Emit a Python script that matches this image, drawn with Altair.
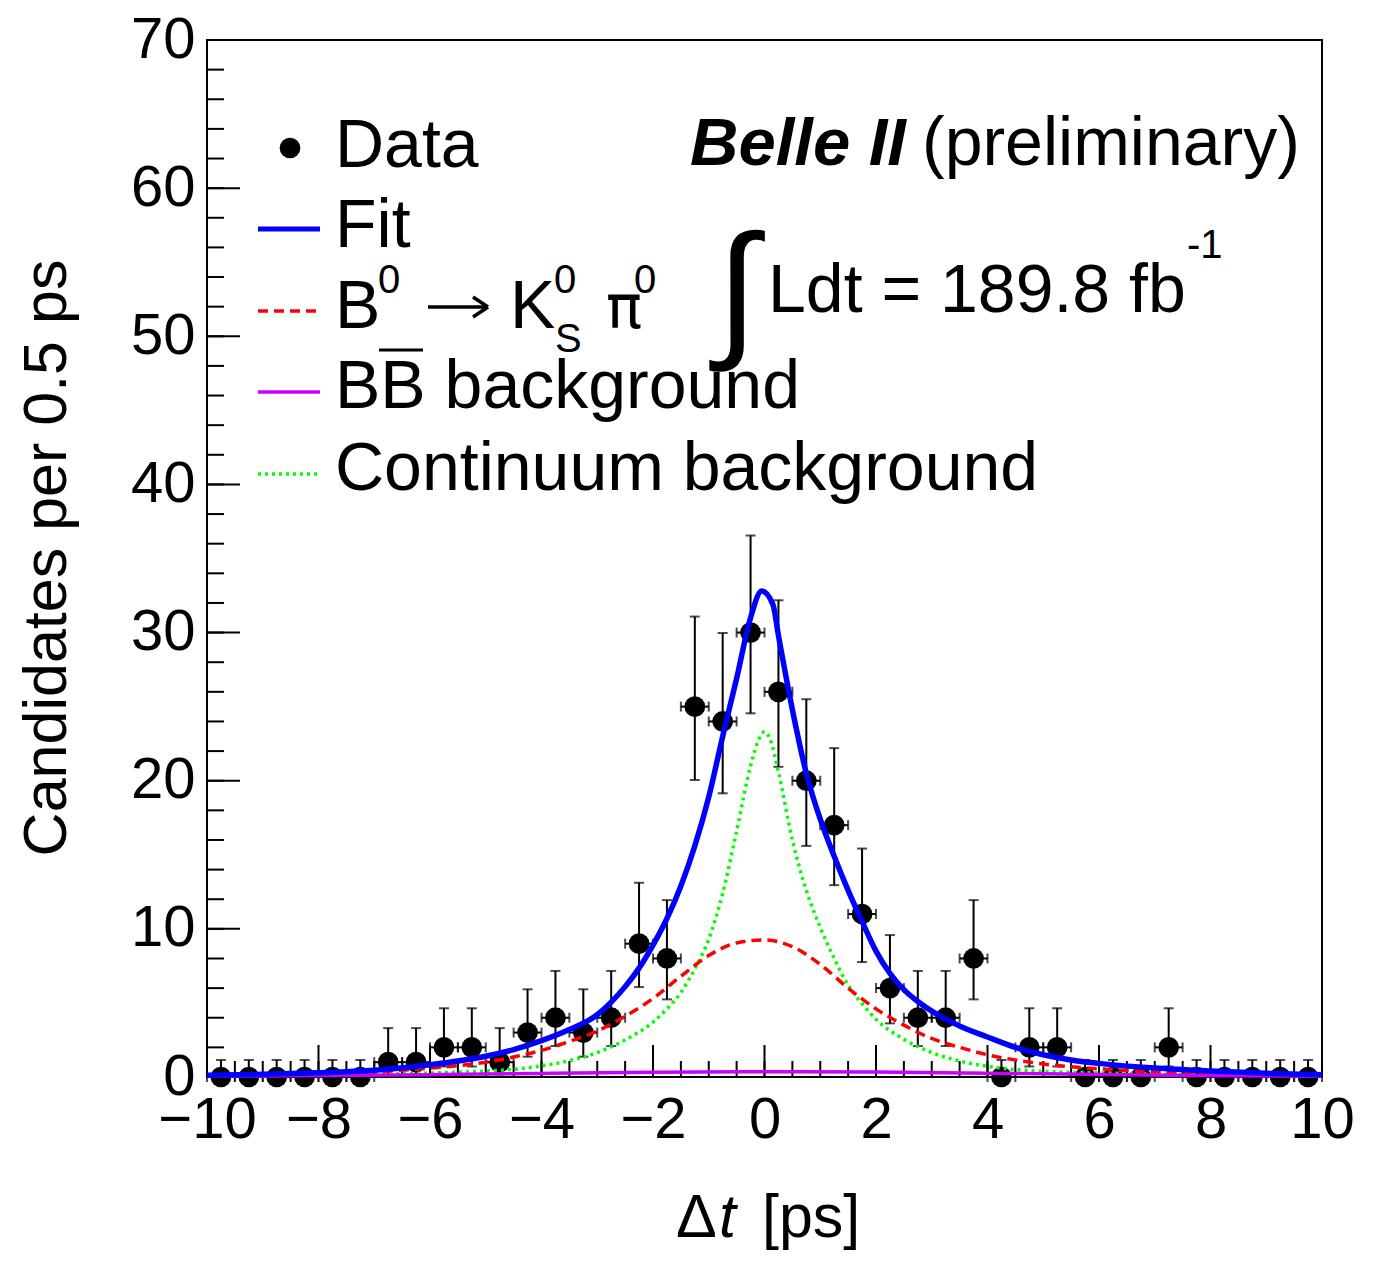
import altair as alt
import pandas as pd

# ---------------- data ----------------
bin_centers = [-9.75, -9.25, -8.75, -8.25, -7.75, -7.25, -6.75, -6.25, -5.75, -5.25,
               -4.75, -4.25, -3.75, -3.25, -2.75, -2.25, -1.75, -1.25, -0.75, -0.25,
               0.25, 0.75, 1.25, 1.75, 2.25, 2.75, 3.25, 3.75, 4.25, 4.75,
               5.25, 5.75, 6.25, 6.75, 7.25, 7.75, 8.25, 8.75, 9.25, 9.75]
counts = [0, 0, 0, 0, 0, 0, 1, 1, 2, 2,
          1, 3, 4, 3, 4, 9, 8, 25, 24, 30,
          26, 20, 17, 11, 6, 4, 4, 8, 0, 2,
          2, 0, 0, 0, 2, 0, 0, 0, 0, 0]

# asymmetric (Poisson) error bars, by count
err_count = [0, 1, 2, 3, 4, 6, 8, 9, 11, 17, 20, 24, 25, 26, 30]
err_low = [0.0, 0.83, 1.29, 1.63, 1.91, 2.38, 2.76, 2.93, 3.24, 4.05, 4.40, 4.85, 4.95, 5.06, 5.45]
err_high = [1.15, 2.30, 2.64, 2.92, 3.16, 3.58, 3.94, 4.11, 4.42, 5.20, 5.50, 5.97, 6.08, 6.18, 6.55]

fit_x = [-10, -9, -8, -7, -6, -5, -4.5, -4, -3.5, -3, -2.75, -2.5, -2.25, -2, -1.75, -1.5,
         -1.25, -1, -0.75, -0.5, -0.25, -0.05, 0.15, 0.25, 0.5, 0.75, 1, 1.25, 1.5, 1.75,
         2, 2.25, 2.5, 2.75, 3, 3.5, 4, 4.5, 5, 5.5, 6, 7, 8, 9, 10]
fit_y = [0.12, 0.18, 0.28, 0.45, 0.82, 1.4, 1.85, 2.45, 3.2, 4.2, 5.05, 6.1, 7.35, 8.9, 10.7, 12.9,
         15.6, 18.9, 23.0, 26.9, 31.0, 32.8, 31.9, 29.8, 24.8, 20.5, 17.4, 14.9, 12.6, 10.5,
         8.5, 7.0, 5.9, 5.1, 4.45, 3.45, 2.7, 2.0, 1.5, 1.15, 0.92, 0.6, 0.4, 0.25, 0.15]

sig_x = [-10, -9, -8, -7, -6, -5, -4.5, -4, -3.5, -3, -2.5, -2, -1.5, -1, -0.5, 0,
         0.5, 1, 1.5, 2, 2.5, 3, 3.5, 4, 4.5, 5, 6, 7, 8, 9, 10]
sig_y = [0.07, 0.12, 0.2, 0.35, 0.6, 1.0, 1.35, 1.8, 2.4, 3.1, 4.1, 5.3, 6.8, 8.2, 9.05, 9.25,
         8.8, 7.6, 6.0, 4.6, 3.5, 2.6, 2.0, 1.5, 1.15, 0.88, 0.55, 0.35, 0.22, 0.13, 0.08]

cont_x = [-10, -9, -8, -7, -6, -5, -4.5, -4, -3.5, -3, -2.5, -2, -1.75, -1.5, -1.25, -1, -0.75,
          -0.5, -0.25, -0.1, 0, 0.1, 0.25, 0.5, 0.75, 1, 1.25, 1.5, 1.75, 2, 2.5, 3, 3.5, 4,
          4.5, 5, 6, 7, 8, 9, 10]
cont_y = [0.08, 0.1, 0.13, 0.18, 0.27, 0.4, 0.52, 0.75, 1.1, 1.65, 2.5, 3.7, 4.6, 5.7, 7.3, 9.3, 12.4,
          16.6, 21.0, 22.8, 23.3, 22.8, 20.6, 16.0, 12.6, 10.1, 8.0, 6.2, 4.95, 3.9, 2.55, 1.65, 1.08, 0.72,
          0.5, 0.38, 0.28, 0.2, 0.15, 0.11, 0.08]

bb_x = [-10, -8, -6, -4, -2, 0, 2, 4, 6, 8, 10]
bb_y = [0.06, 0.1, 0.16, 0.24, 0.32, 0.36, 0.33, 0.26, 0.17, 0.1, 0.06]

x_major_ticks = [-10, -8, -6, -4, -2, 0, 2, 4, 6, 8, 10]
x_minor_ticks = [v / 2 for v in range(-20, 21)]
y_major_ticks = [0, 10, 20, 30, 40, 50, 60, 70]
y_minor_ticks = list(range(0, 71, 2))

# ---------------- layout ----------------
W, H = 1115, 1037
FONT = "Liberation Sans"
BLUE, RED, GREEN, VIOLET = "#0000ff", "#ff0000", "#00ff00", "#cc00ff"
RED_DASH, GREEN_DOT = [10, 6], [3, 4]

lo_map = dict(zip(err_count, err_low))
hi_map = dict(zip(err_count, err_high))
pts = pd.DataFrame({"x": bin_centers, "n": counts})
pts["lo"] = [n - lo_map[n] for n in counts]
pts["hi"] = [n + hi_map[n] for n in counts]
pts["xl"] = pts["x"] - 0.25
pts["xh"] = pts["x"] + 0.25

xs = alt.Scale(domain=[-10, 10], nice=False, zero=False)
ys = alt.Scale(domain=[0, 70], nice=False, zero=False)

X = lambda f: alt.X(f, type="quantitative", scale=xs,
                    axis=alt.Axis(values=x_major_ticks, title=None, domain=False, ticks=False,
                                  grid=False, labelFontSize=58, labelFont=FONT, labelPadding=14,
                                  labelColor="black", labelFlush=False))
Y = lambda f: alt.Y(f, type="quantitative", scale=ys,
                    axis=alt.Axis(values=y_major_ticks, title=None, domain=False, ticks=False,
                                  grid=False, labelFontSize=58, labelFont=FONT, labelPadding=12,
                                  labelColor="black", labelFlush=False))

base = alt.Chart(pts)

# axis ticks pointing inward
xt_major = alt.Chart(pd.DataFrame({"v": x_major_ticks})).mark_rule(color="black", strokeWidth=2).encode(
    x=X("v"), y=alt.value(H), y2=alt.value(H - 32))
xt_minor = alt.Chart(pd.DataFrame({"v": x_minor_ticks})).mark_rule(color="black", strokeWidth=2).encode(
    x=X("v"), y=alt.value(H), y2=alt.value(H - 16))
yt_major = alt.Chart(pd.DataFrame({"v": y_major_ticks})).mark_rule(color="black", strokeWidth=2).encode(
    y=Y("v"), x=alt.value(0), x2=alt.value(33))
yt_minor = alt.Chart(pd.DataFrame({"v": y_minor_ticks})).mark_rule(color="black", strokeWidth=2).encode(
    y=Y("v"), x=alt.value(0), x2=alt.value(17))

# data points with error bars
xerr = base.mark_rule(color="black", strokeWidth=2).encode(x=X("xl"), x2="xh", y=Y("n"))
xcap_l = base.mark_tick(orient="vertical", color="black", size=10, thickness=2).encode(x=X("xl"), y=Y("n"))
xcap_r = base.mark_tick(orient="vertical", color="black", size=10, thickness=2).encode(x=X("xh"), y=Y("n"))
yerr = base.mark_rule(color="black", strokeWidth=2).encode(x=X("x"), y=Y("lo"), y2="hi")
ycap_l = base.mark_tick(orient="horizontal", color="black", size=10, thickness=2).encode(x=X("x"), y=Y("lo"))
ycap_h = base.mark_tick(orient="horizontal", color="black", size=10, thickness=2).encode(x=X("x"), y=Y("hi"))
dots = base.mark_circle(color="black", opacity=1, size=430).encode(x=X("x"), y=Y("n"))


def curve(cx, cy, color, width, dash=None):
    kw = dict(color=color, strokeWidth=width, interpolate="monotone")
    if dash:
        kw["strokeDash"] = dash
    return alt.Chart(pd.DataFrame({"x": cx, "y": cy})).mark_line(**kw).encode(
        x=X("x"), y=Y("y"), order="x:Q")


c_cont = curve(cont_x, cont_y, GREEN, 3.5, GREEN_DOT)
c_sig = curve(sig_x, sig_y, RED, 3.5, RED_DASH)
c_bb = curve(bb_x, bb_y, VIOLET, 3.5)
c_fit = curve(fit_x, fit_y, BLUE, 5.5)

one = pd.DataFrame({"k": [0]})


def txt(s, px, py, size=68, align="left", baseline="alphabetic", angle=0, style="normal",
        weight="normal", font=FONT):
    kw = dict(text=s, font=font, fontSize=size, align=align, baseline=baseline, color="black",
              fontStyle=style, fontWeight=weight)
    if angle:
        kw["angle"] = angle
    return alt.Chart(one).mark_text(**kw).encode(x=alt.value(px), y=alt.value(py))


def seg(x1, y1, x2, y2, color="black", width=3.5, dash=None):
    kw = dict(color=color, strokeWidth=width)
    if dash:
        kw["strokeDash"] = dash
    return alt.Chart(one).mark_rule(**kw).encode(
        x=alt.value(x1), x2=alt.value(x2), y=alt.value(y1), y2=alt.value(y2))


def lrule(py, color, width, dash=None):
    return seg(51, py, 113, py, color, width, dash)


legend = [
    alt.Chart(one).mark_circle(color="black", opacity=1, size=430).encode(x=alt.value(83), y=alt.value(108)),
    txt("Data", 128, 127),
    lrule(189, BLUE, 5),
    txt("Fit", 128, 207),
    lrule(271, RED, 3.5, RED_DASH),
    txt("B", 128, 288),
    txt("0", 171, 253, size=40),
    # arrow
    seg(221, 267, 280, 267, width=3.5),
    seg(281, 267, 266, 257, width=3.5),
    seg(281, 267, 266, 277, width=3.5),
    txt("K", 303, 288),
    txt("0", 347, 253, size=40),
    txt("S", 348, 312, size=40),
    txt("\u03c0", 399, 288, size=60, font="DejaVu Sans"),
    txt("0", 427, 253, size=40),
    lrule(352, VIOLET, 3.5),
    txt("BB background", 128, 368),
    seg(172, 310, 216, 310, width=3),
    lrule(434, GREEN, 3.5, GREEN_DOT),
    txt("Continuum background", 128, 450),
]

labels = [
    txt("Belle II", 483, 125, size=67, style="italic", weight="bold"),
    txt("(preliminary)", 715, 125),
    txt("\u222b", 530, 300, size=150, align="center"),
    txt("Ldt = 189.8 fb", 561, 272),
    txt("-1", 980, 218, size=40),
    # axis titles
    txt("Candidates per 0.5 ps", -141, 518, size=61, align="center", angle=270),
    txt("\u0394", 469, 1197, size=61),
    txt("t", 512, 1197, size=61, style="italic"),
    txt("[ps]", 555, 1197, size=61),
]

chart = alt.layer(
    xt_minor, xt_major, yt_minor, yt_major,
    xerr, xcap_l, xcap_r, yerr, ycap_l, ycap_h, dots,
    c_cont, c_sig, c_bb, c_fit,
    *legend, *labels,
).properties(
    width=W, height=H,
    autosize=alt.AutoSizeParams(type="none"),
    padding={"left": 199, "top": 32, "right": 50, "bottom": 185},
    background="white",
).configure_view(stroke="black", strokeWidth=2)

chart.save("out.html", embed_options={"renderer": "svg", "actions": False})
